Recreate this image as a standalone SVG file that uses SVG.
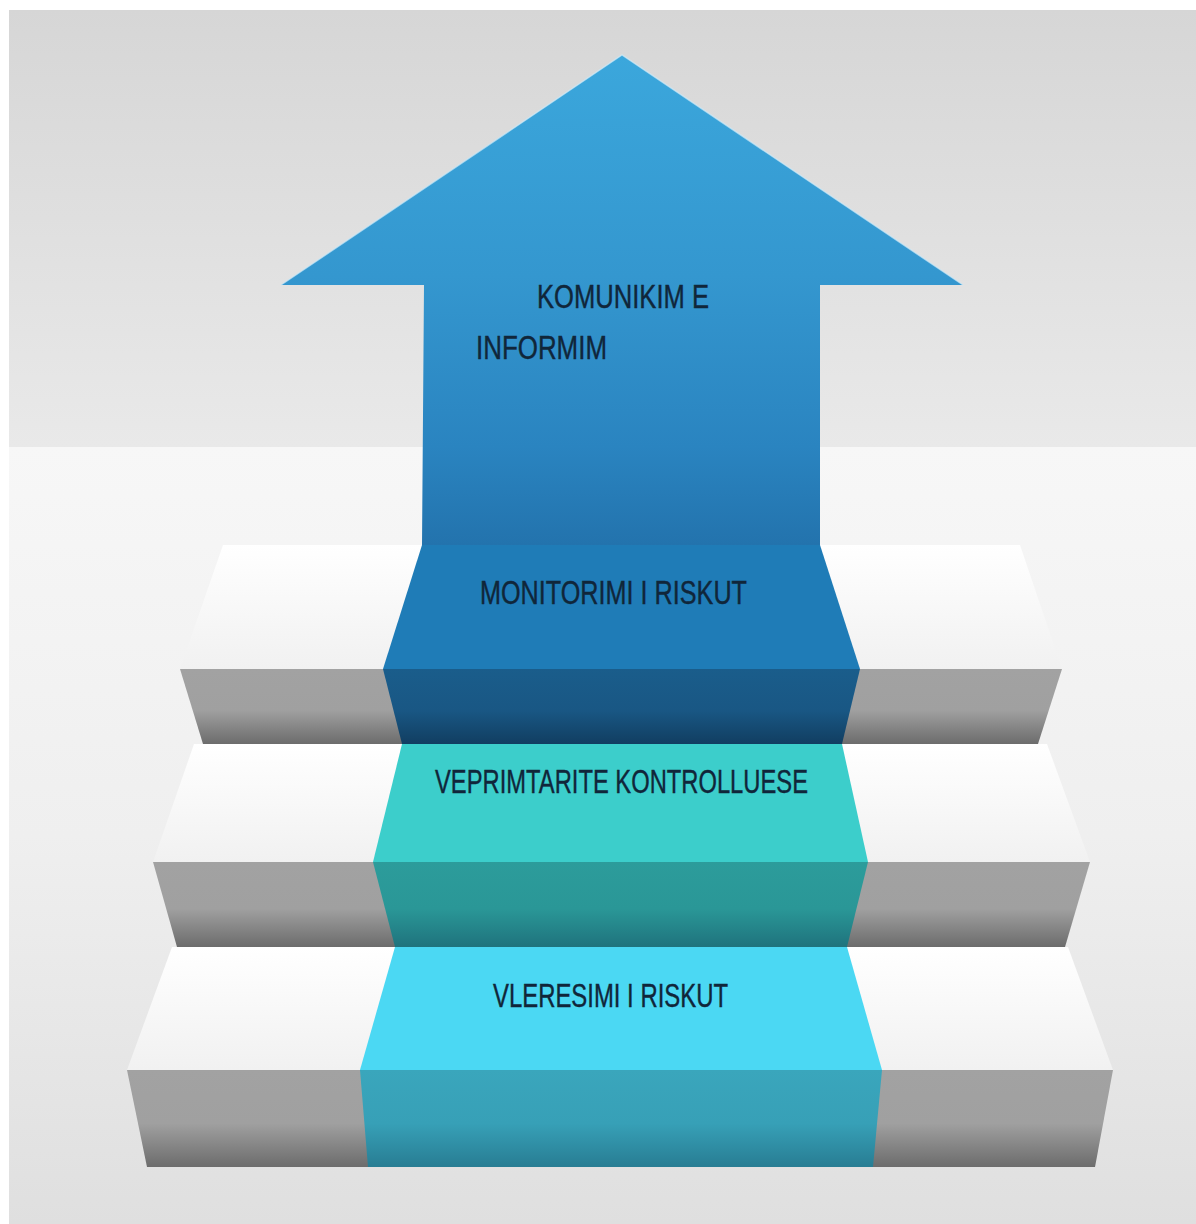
<svg xmlns="http://www.w3.org/2000/svg" width="1196" height="1224" viewBox="0 0 1196 1224">
  <defs>
    <linearGradient id="bgTop" x1="0" y1="0" x2="0" y2="1">
      <stop offset="0" stop-color="#d6d6d6"/>
      <stop offset="1" stop-color="#e9e9e9"/>
    </linearGradient>
    <linearGradient id="bgBottom" x1="0" y1="0" x2="0" y2="1">
      <stop offset="0" stop-color="#f7f7f7"/>
      <stop offset="0.5" stop-color="#efefef"/>
      <stop offset="1" stop-color="#dfdfdf"/>
    </linearGradient>
    <linearGradient id="whiteTop" x1="0" y1="0" x2="0" y2="1">
      <stop offset="0" stop-color="#ffffff"/>
      <stop offset="1" stop-color="#f1f1f1"/>
    </linearGradient>
    <linearGradient id="grayFront" x1="0" y1="0" x2="0" y2="1">
      <stop offset="0" stop-color="#a2a2a2"/>
      <stop offset="0.55" stop-color="#a0a0a0"/>
      <stop offset="1" stop-color="#6c6c6c"/>
    </linearGradient>
    <linearGradient id="arrowGrad" gradientUnits="userSpaceOnUse" x1="0" y1="55" x2="0" y2="545">
      <stop offset="0" stop-color="#3ba7dc"/>
      <stop offset="0.45" stop-color="#3497cf"/>
      <stop offset="0.8" stop-color="#2a84c0"/>
      <stop offset="1" stop-color="#2373ad"/>
    </linearGradient>
    <linearGradient id="blueFront" x1="0" y1="0" x2="0" y2="1">
      <stop offset="0" stop-color="#1a5d8b"/>
      <stop offset="0.55" stop-color="#195784"/>
      <stop offset="1" stop-color="#113e61"/>
    </linearGradient>
    <linearGradient id="tealFront" x1="0" y1="0" x2="0" y2="1">
      <stop offset="0" stop-color="#2c9c9b"/>
      <stop offset="0.55" stop-color="#2a9797"/>
      <stop offset="1" stop-color="#1f737d"/>
    </linearGradient>
    <linearGradient id="cyanFront" x1="0" y1="0" x2="0" y2="1">
      <stop offset="0" stop-color="#3aa6bc"/>
      <stop offset="0.55" stop-color="#37a0b7"/>
      <stop offset="1" stop-color="#287d93"/>
    </linearGradient>
  </defs>
  <style>
    .lbl { font-family: "Liberation Sans", "Open Sans", Arial, sans-serif; font-size: 34px; fill: #10263a; stroke: #10263a; stroke-width: 0.4px; }
    .white { fill: url(#whiteTop); }
    .gray { fill: url(#grayFront); }
  </style>

  <!-- background -->
  <rect x="0" y="0" width="1196" height="1224" fill="#ffffff"/>
  <rect x="9" y="10" width="1187" height="437" fill="url(#bgTop)"/>
  <rect x="9" y="447" width="1187" height="777" fill="url(#bgBottom)"/>

  <!-- stair structure (white tops, gray risers) -->
  <g id="stairs">
    <polygon class="white" points="223,545 1020,545 1062,669 180,669"/>
    <polygon class="gray" points="180,669 1062,669 1038,744 203,744"/>
    <polygon class="white" points="194,744 1047,744 1090,862 153,862"/>
    <polygon class="gray" points="153,862 1090,862 1065,947 177,947"/>
    <polygon class="white" points="172,947 1068,947 1113,1070 127,1070"/>
    <polygon class="gray" points="127,1070 1113,1070 1095,1167 147,1167"/>
  </g>

  <g id="connectors"/>

  <g id="step3">
    <polygon points="395,947 847,947 882,1070 360,1070" fill="#4bd8f3"/>
    <polygon points="360,1070 882,1070 873,1167 368,1167" fill="url(#cyanFront)"/>
    <text class="lbl" x="493" y="1007" textLength="235" lengthAdjust="spacingAndGlyphs">VLERESIMI I RISKUT</text>
  </g>

  <g id="step2">
    <polygon points="402,744 842,744 868,862 373,862" fill="#3ccecb"/>
    <polygon points="373,862 868,862 847,947 395,947" fill="url(#tealFront)"/>
    <text class="lbl" x="435" y="793" textLength="373" lengthAdjust="spacingAndGlyphs">VEPRIMTARITE KONTROLLUESE</text>
  </g>

  <g id="step1">
    <polygon points="422,545 820,545 860,669 383,669" fill="#1f7cb7"/>
    <polygon points="383,669 860,669 842,744 402,744" fill="url(#blueFront)"/>
    <text class="lbl" x="480" y="604" textLength="267" lengthAdjust="spacingAndGlyphs">MONITORIMI I RISKUT</text>
  </g>

  <g id="arrow">
    <polygon points="622,55 963,285 820,285 820,545 422,545 424,285 281,285" fill="url(#arrowGrad)"/>
    <polyline points="281,285 622,55 963,285" fill="none" stroke="#cdeaf8" stroke-width="1.5" stroke-opacity="0.7"/>
    <text class="lbl" x="537" y="308" textLength="172" lengthAdjust="spacingAndGlyphs">KOMUNIKIM E</text>
    <text class="lbl" x="476" y="359" textLength="131" lengthAdjust="spacingAndGlyphs">INFORMIM</text>
  </g>
</svg>
